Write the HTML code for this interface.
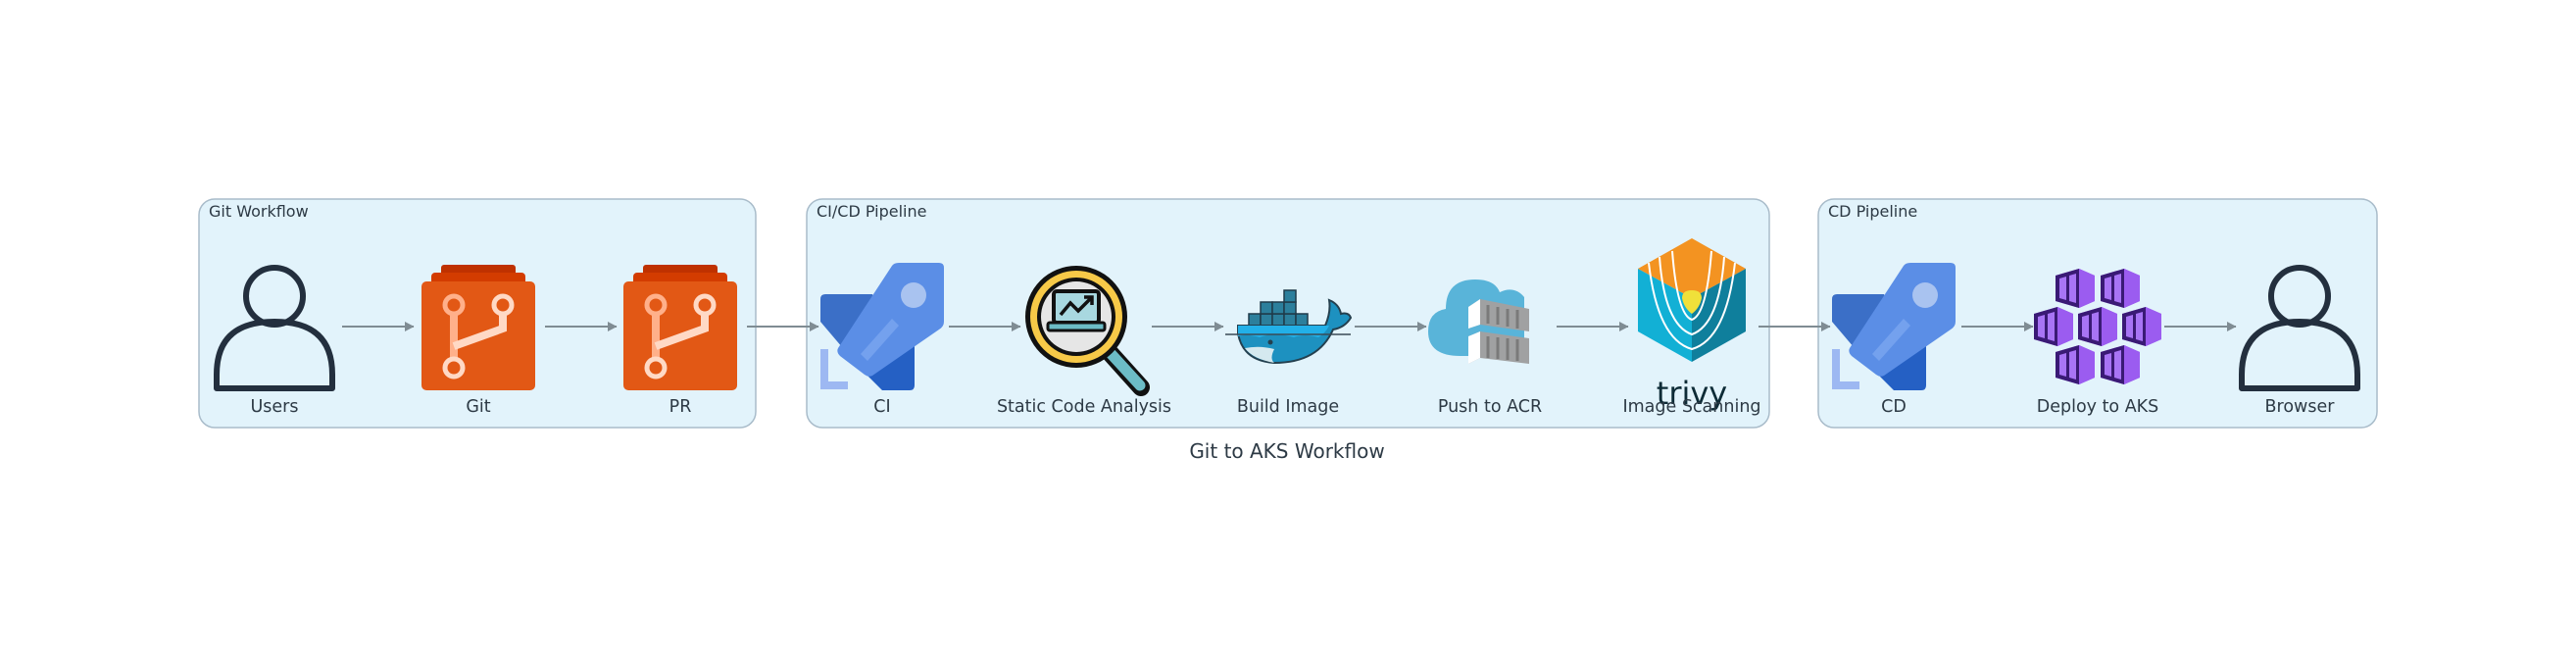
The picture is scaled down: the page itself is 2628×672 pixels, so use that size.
<!DOCTYPE html>
<html><head><meta charset="utf-8"><style>
html,body{margin:0;padding:0;background:#fff;}
svg{display:block;}
text{font-family:"DejaVu Sans","Liberation Sans",sans-serif;}
</style></head><body>
<svg width="2628" height="672" viewBox="0 0 2628 672" xmlns="http://www.w3.org/2000/svg">
<defs>
<marker id="ah" markerWidth="10" markerHeight="10" refX="9" refY="5" orient="auto" markerUnits="userSpaceOnUse">
<path d="M0,0 L0,0 L16,5 L0,10 Z" fill="#7f8c93" transform="scale(0.6,1)"/>
</marker>
<g id="user">
<circle cx="0" cy="-32" r="29" fill="none" stroke="#232f3e" stroke-width="6"/>
<path d="M-59,62 L59,62 L59,48 C59,8 35,-6 0,-6 C-35,-6 -59,8 -59,48 Z" fill="none" stroke="#232f3e" stroke-width="6" stroke-linejoin="round"/>
</g>
<g id="git">
<rect x="-38" y="-63" width="76" height="16" rx="3" fill="#bf3100"/>
<rect x="-48" y="-55" width="96" height="16" rx="4" fill="#d33c00"/>
<rect x="-58" y="-46" width="116" height="111" rx="5" fill="#e25815"/>
<path d="M-25,-13 V33" stroke="#ffb08a" stroke-width="8"/>
<path d="M-25,20 L25,2 V-13" stroke="#ffd9c5" stroke-width="8" fill="none"/>
<circle cx="-25" cy="-22" r="9" fill="none" stroke="#ffb08a" stroke-width="5"/>
<circle cx="25" cy="-22" r="9" fill="none" stroke="#ffd9c5" stroke-width="5"/>
<circle cx="-25" cy="42" r="9" fill="none" stroke="#ffd9c5" stroke-width="5"/>
</g>
<g id="rocket">
<path d="M-63,-28 Q-63,-33 -58,-33 L-10,-33 L10,20 L-35,28 L-63,-5 Z" fill="#3b6fc7"/>
<path d="M-20,40 L25,-5 L33,5 L33,60 Q33,65 28,65 L0,65 L-20,45 Z" fill="#2560c4"/>
<path d="M-45,22 L10,-62 Q12,-65 17,-65 L58,-65 Q63,-65 63,-60 L63,-5 Q63,0 58,3 L-10,50 Q-14,52 -18,49 L-43,30 Q-47,26 -45,22 Z" fill="#5b8ee6"/>
<circle cx="32" cy="-32" r="13" fill="#a9c3f0"/>
<path d="M-22,28 L10,-8 L17,-1 L-15,35 Z" fill="#7aa6f0" opacity="0.8"/>
<path d="M-63,23 h8 v33 h20 v8 h-28 Z" fill="#9db8f2"/>
</g>
<g id="cube">
<path d="M-20,-13 L4,-20 L20,-13 L20,13 L4,20 L-20,13 Z" fill="#8d46e6"/>
<path d="M-20,-13 L4,-20 L4,20 L-20,13 Z" fill="#3a1a75"/>
<path d="M-16,-10 L-9,-12 L-9,12 L-16,10 Z M-6,-13 L1,-15 L1,15 L-6,13 Z" fill="#a874f5"/>
<path d="M4,-20 L20,-13 L20,13 L4,20 Z" fill="#9b5cf0"/>
</g>
</defs>

<rect x="203" y="203" width="568" height="233" rx="16" fill="#e2f3fb" stroke="#a9bcca" stroke-width="1.5"/>
<rect x="823" y="203" width="982" height="233" rx="16" fill="#e2f3fb" stroke="#a9bcca" stroke-width="1.5"/>
<rect x="1855" y="203" width="570" height="233" rx="16" fill="#e2f3fb" stroke="#a9bcca" stroke-width="1.5"/>
<text x="213" y="221" font-size="16" fill="#2d3a45">Git Workflow</text>
<text x="833" y="221" font-size="16" fill="#2d3a45">CI/CD Pipeline</text>
<text x="1865" y="221" font-size="16" fill="#2d3a45">CD Pipeline</text>

<g stroke="#7f8c93" stroke-width="2" marker-end="url(#ah)">
<line x1="349" y1="333" x2="422" y2="333"/>
<line x1="556" y1="333" x2="629" y2="333"/>
<line x1="762" y1="333" x2="835" y2="333"/>
<line x1="968" y1="333" x2="1041" y2="333"/>
<line x1="1175" y1="333" x2="1248" y2="333"/>
<line x1="1382" y1="333" x2="1455" y2="333"/>
<line x1="1588" y1="333" x2="1661" y2="333"/>
<line x1="1794" y1="333" x2="1867" y2="333"/>
<line x1="2001" y1="333" x2="2074" y2="333"/>
<line x1="2208" y1="333" x2="2281" y2="333"/>
</g>

<use href="#user" x="280" y="334"/>
<use href="#git" x="488" y="333"/>
<use href="#git" x="694" y="333"/>
<use href="#rocket" x="900" y="333"/>
<use href="#rocket" x="1932" y="333"/>

<g transform="translate(1106,333)">
<path d="M22,22 L58,62" stroke="#111" stroke-width="18" stroke-linecap="round"/>
<path d="M24,24 L57,60" stroke="#6cbcc6" stroke-width="11" stroke-linecap="round"/>
<circle cx="-8" cy="-10" r="52" fill="#111"/>
<circle cx="-8" cy="-10" r="47" fill="#f7c948"/>
<circle cx="-8" cy="-10" r="40" fill="#111"/>
<circle cx="-8" cy="-10" r="36" fill="#e6e6e6"/>
<rect x="-31" y="-36" width="46" height="32" rx="3" fill="#a8d8e0" stroke="#111" stroke-width="4"/>
<rect x="-37" y="-4" width="58" height="8" rx="2" fill="#6cbcc6" stroke="#111" stroke-width="3"/>
<path d="M-24,-12 L-14,-24 L-6,-16 L8,-30 M0,-30 H8 V-22" stroke="#111" stroke-width="3.5" fill="none"/>
</g>

<g>
<g fill="#2c7f9c" stroke="#1f3b4a" stroke-width="1.5">
<rect x="1274" y="320" width="12" height="12"/><rect x="1286" y="320" width="12" height="12"/><rect x="1298" y="320" width="12" height="12"/><rect x="1310" y="320" width="12" height="12"/><rect x="1322" y="320" width="12" height="12"/>
<rect x="1286" y="308" width="12" height="12"/><rect x="1298" y="308" width="12" height="12"/><rect x="1310" y="308" width="12" height="12"/>
<rect x="1310" y="296" width="12" height="12"/>
</g>
<path d="M1263,332 L1352,332 Q1358,318 1356,306 Q1366,310 1368,320 Q1376,318 1378,324 Q1372,334 1360,336 Q1345,370 1300,370 Q1268,368 1263,340 Z" fill="#1d91c0" stroke="#24404f" stroke-width="2"/>
<path d="M1263,332 L1356,332 Q1352,340 1345,344 Q1330,340 1320,344 Q1300,338 1285,344 Q1272,340 1263,343 Z" fill="#22b0e8"/>
<path d="M1270,355 Q1285,352 1300,356 Q1295,366 1300,370 Q1278,366 1270,355 Z" fill="#d5e9ef"/>
<circle cx="1296" cy="349" r="2.5" fill="#24404f"/>
<line x1="1250" y1="341" x2="1378" y2="341" stroke="#3a4a55" stroke-width="1.5"/>
</g>

<g transform="translate(1520,333)">
<path d="M-30,30 Q-63,30 -63,5 Q-63,-15 -45,-18 Q-45,-48 -15,-48 Q5,-48 10,-35 Q25,-42 35,-30 L35,30 Z" fill="#59b4d9"/>
<path d="M-22,-20 L-10,-28 L40,-18 L40,5 L-10,-2 L-22,2 Z" fill="#a0a1a2"/>
<path d="M-22,-20 L-10,-28 L-10,-2 L-22,2 Z" fill="#fff"/>
<path d="M-22,10 L-10,5 L40,12 L40,38 L-10,32 L-22,38 Z" fill="#a0a1a2"/>
<path d="M-22,10 L-10,5 L-10,32 L-22,38 Z" fill="#fff"/>
<g stroke="#7a7a7a" stroke-width="3">
<line x1="-2" y1="-22" x2="-2" y2="-3"/><line x1="8" y1="-20" x2="8" y2="-2"/><line x1="18" y1="-18" x2="18" y2="0"/><line x1="28" y1="-17" x2="28" y2="2"/>
<line x1="-2" y1="10" x2="-2" y2="32"/><line x1="8" y1="11" x2="8" y2="33"/><line x1="18" y1="12" x2="18" y2="34"/><line x1="28" y1="13" x2="28" y2="35"/>
</g>
</g>

<g transform="translate(1726,306)">
<path d="M0,-63 L55,-32 L0,-2 L-55,-32 Z" fill="#f39321"/>
<path d="M-55,-32 L0,-2 L0,63 L-55,32 Z" fill="#12b0d5"/>
<path d="M55,-32 L0,-2 L0,63 L55,32 Z" fill="#0f7f9c"/>
<g fill="none" stroke="#fff" stroke-width="2">
<path d="M-44,-38 Q-35,40 0,50 Q35,40 44,-38"/>
<path d="M-33,-44 Q-28,25 0,35 Q28,25 33,-44"/>
<path d="M-20,-50 Q-15,15 0,20 Q15,15 20,-50"/>
</g>
<path d="M0,-10 Q10,-10 10,-2 Q8,8 0,14 Q-8,8 -10,-2 Q-10,-10 0,-10 Z" fill="#f0e03a"/>
</g>
<text x="1726" y="412" font-size="32" fill="#0d2b36" text-anchor="middle">trivy</text>

<use href="#cube" x="2117" y="294"/>
<use href="#cube" x="2163" y="294"/>
<use href="#cube" x="2095" y="333"/>
<use href="#cube" x="2140" y="333"/>
<use href="#cube" x="2185" y="333"/>
<use href="#cube" x="2117" y="372"/>
<use href="#cube" x="2163" y="372"/>

<use href="#user" x="2346" y="334"/>

<g font-size="17.5" fill="#2d3a45" text-anchor="middle">
<text x="280" y="420">Users</text>
<text x="488" y="420">Git</text>
<text x="694" y="420">PR</text>
<text x="900" y="420">CI</text>
<text x="1106" y="420">Static Code Analysis</text>
<text x="1314" y="420">Build Image</text>
<text x="1520" y="420">Push to ACR</text>
<text x="1726" y="420">Image Scanning</text>
<text x="1932" y="420">CD</text>
<text x="2140" y="420">Deploy to AKS</text>
<text x="2346" y="420">Browser</text>
</g>
<text x="1313" y="467" font-size="20" fill="#2d3a45" text-anchor="middle">Git to AKS Workflow</text>
</svg>
</body></html>
